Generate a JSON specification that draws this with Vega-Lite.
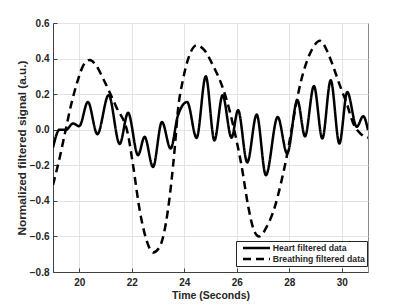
{
  "$schema": "https://vega.github.io/schema/vega-lite/v6.json",
  "width": 315,
  "height": 249,
  "autosize": {"type": "none"},
  "padding": {"left": 53, "top": 23, "right": 39, "bottom": 33},
  "background": "white",
  "config": {
    "font": "Liberation Sans",
    "view": {"stroke": "#8a8a8a", "strokeWidth": 1},
    "axis": {
      "labelFont": "Liberation Sans",
      "labelFontSize": 10,
      "labelFontWeight": "bold",
      "labelColor": "#262626",
      "titleFont": "Liberation Sans",
      "titleFontWeight": "bold",
      "titleColor": "#262626",
      "domainColor": "#404040",
      "tickColor": "#404040",
      "gridColor": "#e3e3e3",
      "gridOpacity": 1,
      "tickSize": -4
    }
  },
  "data": {
    "values": [
      {"t": 19.0, "v": -0.10, "s": "Heart filtered data"},
      {"t": 19.25, "v": 0.0, "s": "Heart filtered data"},
      {"t": 19.5, "v": 0.0, "s": "Heart filtered data"},
      {"t": 19.76, "v": 0.035, "s": "Heart filtered data"},
      {"t": 20.0, "v": 0.02, "s": "Heart filtered data"},
      {"t": 20.33, "v": 0.156, "s": "Heart filtered data"},
      {"t": 20.69, "v": -0.025, "s": "Heart filtered data"},
      {"t": 21.12, "v": 0.195, "s": "Heart filtered data"},
      {"t": 21.54, "v": -0.08, "s": "Heart filtered data"},
      {"t": 21.86, "v": 0.095, "s": "Heart filtered data"},
      {"t": 22.24, "v": -0.143, "s": "Heart filtered data"},
      {"t": 22.49, "v": -0.04, "s": "Heart filtered data"},
      {"t": 22.81, "v": -0.21, "s": "Heart filtered data"},
      {"t": 23.15, "v": 0.044, "s": "Heart filtered data"},
      {"t": 23.48, "v": -0.106, "s": "Heart filtered data"},
      {"t": 23.76, "v": 0.08, "s": "Heart filtered data"},
      {"t": 24.11, "v": 0.156, "s": "Heart filtered data"},
      {"t": 24.47, "v": -0.046, "s": "Heart filtered data"},
      {"t": 24.82, "v": 0.30, "s": "Heart filtered data"},
      {"t": 25.15, "v": -0.06, "s": "Heart filtered data"},
      {"t": 25.46, "v": 0.194, "s": "Heart filtered data"},
      {"t": 25.8, "v": -0.045, "s": "Heart filtered data"},
      {"t": 26.05, "v": 0.11, "s": "Heart filtered data"},
      {"t": 26.4, "v": -0.184, "s": "Heart filtered data"},
      {"t": 26.76, "v": 0.085, "s": "Heart filtered data"},
      {"t": 27.11, "v": -0.256, "s": "Heart filtered data"},
      {"t": 27.56, "v": 0.072, "s": "Heart filtered data"},
      {"t": 27.92, "v": -0.134, "s": "Heart filtered data"},
      {"t": 28.31, "v": 0.166, "s": "Heart filtered data"},
      {"t": 28.6, "v": -0.037, "s": "Heart filtered data"},
      {"t": 28.94, "v": 0.246, "s": "Heart filtered data"},
      {"t": 29.26, "v": -0.05, "s": "Heart filtered data"},
      {"t": 29.58, "v": 0.278, "s": "Heart filtered data"},
      {"t": 29.91, "v": -0.078, "s": "Heart filtered data"},
      {"t": 30.21, "v": 0.212, "s": "Heart filtered data"},
      {"t": 30.57, "v": 0.016, "s": "Heart filtered data"},
      {"t": 30.82, "v": 0.076, "s": "Heart filtered data"},
      {"t": 31.0, "v": -0.003, "s": "Heart filtered data"},
      {"t": 19.0, "v": -0.31, "s": "Breathing filtered data"},
      {"t": 19.25, "v": -0.16, "s": "Breathing filtered data"},
      {"t": 19.44, "v": -0.03, "s": "Breathing filtered data"},
      {"t": 19.69, "v": 0.14, "s": "Breathing filtered data"},
      {"t": 19.95, "v": 0.28, "s": "Breathing filtered data"},
      {"t": 20.15, "v": 0.36, "s": "Breathing filtered data"},
      {"t": 20.4, "v": 0.392, "s": "Breathing filtered data"},
      {"t": 20.65, "v": 0.36, "s": "Breathing filtered data"},
      {"t": 20.9, "v": 0.29, "s": "Breathing filtered data"},
      {"t": 21.41, "v": 0.128, "s": "Breathing filtered data"},
      {"t": 21.86, "v": -0.03, "s": "Breathing filtered data"},
      {"t": 22.05, "v": -0.2, "s": "Breathing filtered data"},
      {"t": 22.3, "v": -0.45, "s": "Breathing filtered data"},
      {"t": 22.56, "v": -0.62, "s": "Breathing filtered data"},
      {"t": 22.82, "v": -0.69, "s": "Breathing filtered data"},
      {"t": 23.06, "v": -0.66, "s": "Breathing filtered data"},
      {"t": 23.38, "v": -0.45, "s": "Breathing filtered data"},
      {"t": 23.64, "v": -0.1, "s": "Breathing filtered data"},
      {"t": 23.76, "v": 0.11, "s": "Breathing filtered data"},
      {"t": 23.95, "v": 0.28, "s": "Breathing filtered data"},
      {"t": 24.2, "v": 0.42, "s": "Breathing filtered data"},
      {"t": 24.47, "v": 0.475, "s": "Breathing filtered data"},
      {"t": 24.75, "v": 0.45, "s": "Breathing filtered data"},
      {"t": 25.1, "v": 0.36, "s": "Breathing filtered data"},
      {"t": 25.48, "v": 0.23, "s": "Breathing filtered data"},
      {"t": 25.74, "v": 0.1, "s": "Breathing filtered data"},
      {"t": 25.99, "v": -0.06, "s": "Breathing filtered data"},
      {"t": 26.18, "v": -0.2, "s": "Breathing filtered data"},
      {"t": 26.44, "v": -0.434, "s": "Breathing filtered data"},
      {"t": 26.63, "v": -0.555, "s": "Breathing filtered data"},
      {"t": 26.85, "v": -0.6, "s": "Breathing filtered data"},
      {"t": 27.14, "v": -0.546, "s": "Breathing filtered data"},
      {"t": 27.45, "v": -0.434, "s": "Breathing filtered data"},
      {"t": 27.71, "v": -0.284, "s": "Breathing filtered data"},
      {"t": 27.9, "v": -0.153, "s": "Breathing filtered data"},
      {"t": 28.09, "v": 0.0, "s": "Breathing filtered data"},
      {"t": 28.22, "v": 0.11, "s": "Breathing filtered data"},
      {"t": 28.41, "v": 0.25, "s": "Breathing filtered data"},
      {"t": 28.66, "v": 0.38, "s": "Breathing filtered data"},
      {"t": 28.9, "v": 0.46, "s": "Breathing filtered data"},
      {"t": 29.17, "v": 0.5, "s": "Breathing filtered data"},
      {"t": 29.45, "v": 0.44, "s": "Breathing filtered data"},
      {"t": 29.68, "v": 0.353, "s": "Breathing filtered data"},
      {"t": 30.0, "v": 0.22, "s": "Breathing filtered data"},
      {"t": 30.19, "v": 0.147, "s": "Breathing filtered data"},
      {"t": 30.44, "v": 0.035, "s": "Breathing filtered data"},
      {"t": 30.7, "v": -0.02, "s": "Breathing filtered data"},
      {"t": 31.0, "v": -0.045, "s": "Breathing filtered data"}
    ]
  },
  "mark": {"type": "line", "interpolate": "monotone", "strokeWidth": 2.5, "color": "black", "clip": true},
  "encoding": {
    "x": {
      "field": "t", "type": "quantitative",
      "scale": {"domain": [19, 31], "nice": false, "zero": false},
      "axis": {"values": [20, 22, 24, 26, 28, 30], "title": "Time (Seconds)", "titleFontSize": 10.5, "labelPadding": 9, "titlePadding": 3, "grid": true}
    },
    "y": {
      "field": "v", "type": "quantitative",
      "scale": {"domain": [-0.8, 0.6], "nice": false, "zero": false},
      "axis": {"values": [-0.8, -0.6, -0.4, -0.2, 0, 0.2, 0.4, 0.6], "format": ".1f", "title": "Normalized filtered signal (a.u.)", "titleFontSize": 11.8, "labelPadding": 8, "titlePadding": 2, "grid": true}
    },
    "strokeDash": {
      "field": "s", "type": "nominal",
      "scale": {"domain": ["Heart filtered data", "Breathing filtered data"], "range": [[1, 0], [8, 5]]},
      "legend": {
        "title": null,
        "orient": "none",
        "legendX": 183,
        "legendY": 218,
        "direction": "vertical",
        "symbolType": "M0,0H7.71",
        "symbolSize": 49,
        "symbolStrokeWidth": 2.5,
        "symbolStrokeColor": "black",
        "labelFont": "Liberation Sans",
        "labelFontSize": 8.7,
        "labelFontWeight": "bold",
        "labelColor": "#262626",
        "strokeColor": "#262626",
        "fillColor": "white",
        "padding": 2,
        "rowPadding": 1,
        "labelOffset": 24.7
      }
    }
  }
}
